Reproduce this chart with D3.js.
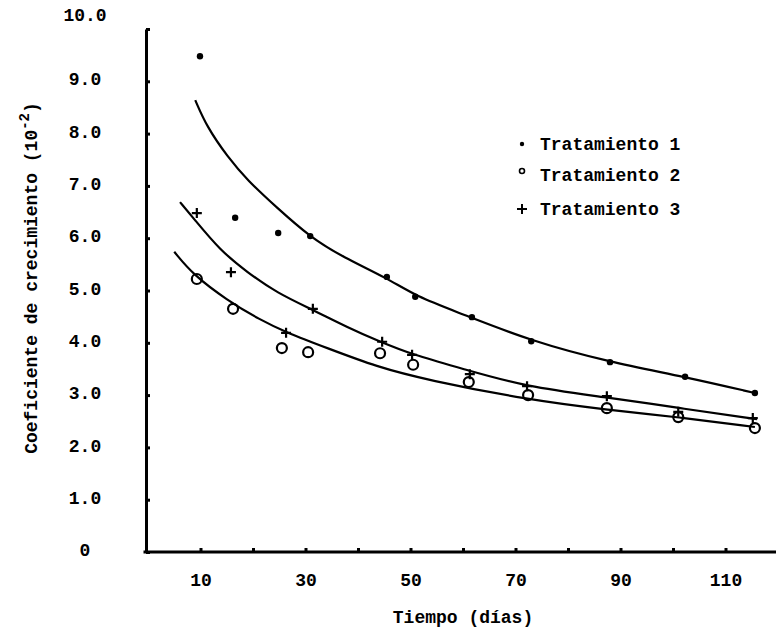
<!DOCTYPE html>
<html>
<head>
<meta charset="utf-8">
<script src="https://cdn.jsdelivr.net/npm/d3@7"></script>
<style>
  body { margin: 0; background: #fff; }
  svg { display: block; font-family: 'Liberation Mono', 'DejaVu Sans Mono', monospace; font-weight: bold; }
</style>
</head>
<body>
<svg></svg>
<script>
// Tratamiento 1 (puntos)
const days1 = [9.9, 16.6, 24.8, 30.9, 45.5, 50.9, 61.7, 73.0, 88.0, 102.3, 115.6]
const tratamiento1 = [9.48, 6.39, 6.10, 6.04, 5.26, 4.88, 4.49, 4.03, 3.63, 3.35, 3.04]
// Tratamiento 2 (circulos)
const days2 = [9.3, 16.2, 25.5, 30.5, 44.2, 50.5, 61.1, 72.4, 87.4, 101.0, 115.6]
const tratamiento2 = [5.22, 4.65, 3.90, 3.82, 3.80, 3.58, 3.25, 3.00, 2.75, 2.58, 2.37]
// Tratamiento 3 (cruces)
const days3 = [9.3, 15.8, 26.3, 31.4, 44.6, 50.3, 61.3, 72.2, 87.4, 101.0, 115.2]
const tratamiento3 = [6.48, 5.35, 4.19, 4.65, 4.02, 3.77, 3.40, 3.17, 2.98, 2.68, 2.56]

// fitted curves
const fitDays1 = [9.0, 11.2, 15.2, 18.9, 24.6, 30.9, 37.1, 45.5, 51.2, 59.4, 73.0, 88.0, 102.3, 115.6]
const fit1 = [8.64, 8.13, 7.55, 7.11, 6.58, 6.02, 5.64, 5.24, 4.88, 4.57, 4.03, 3.63, 3.35, 3.04]
const fitDays2 = [5.0, 8.6, 15.0, 21.3, 26.5, 34.1, 43.6, 53.1, 72.4, 87.4, 101.0, 115.6]
const fit2 = [5.74, 5.30, 4.82, 4.44, 4.19, 3.90, 3.54, 3.29, 2.91, 2.72, 2.58, 2.39]
const fitDays3 = [6.1, 8.6, 13.7, 18.9, 24.6, 31.4, 37.9, 44.2, 50.5, 59.4, 72.2, 87.4, 101.3, 116.0]
const fit3 = [6.69, 6.39, 5.77, 5.35, 4.95, 4.63, 4.30, 4.02, 3.77, 3.52, 3.15, 2.96, 2.75, 2.54]

const yTicks = [0, 1, 2, 3, 4, 5, 6, 7, 8, 9, 10]
const xTicks = [10, 20, 30, 40, 50, 60, 70, 80, 90, 100, 110]
const xLabels = [10, 30, 50, 70, 90, 110]
const legendLabels = ['Tratamiento 1', 'Tratamiento 2', 'Tratamiento 3']

const width = 776
const height = 631

const x = d3.scaleLinear()
  .domain([0, 120])
  .range([148, 778])

const y = d3.scaleLinear()
  .domain([0, 10])
  .range([552, 29])

const svg = d3.select('svg')
  .attr('width', width)
  .attr('height', height)

function xAxis (g) {
  g.attr('transform', `translate(0,${y(0)})`)
    .call(d3.axisBottom(x)
      .tickValues(xTicks)
      .tickSizeInner(-4)
      .tickSizeOuter(0)
      .tickPadding(21)
      .tickFormat(d => xLabels.includes(d) ? d : ''))
    .attr('font-family', null)
    .attr('font-size', 18)
    .call(g => g.select('.domain')
      .attr('stroke-width', 3)
      .attr('stroke-linecap', 'square')
      .attr('d', `M${x(0) - 3},0H${width}`))
    .call(g => g.selectAll('.tick line').attr('stroke-width', 3))
    .call(g => g.selectAll('.tick text').attr('fill', '#000'))
    .call(g => g.append('text')
      .attr('x', 463)
      .attr('y', 623 - y(0))
      .attr('fill', '#000')
      .attr('text-anchor', 'middle')
      .text('Tiempo (días)'))
}

function yAxis (g) {
  g.attr('transform', `translate(${x(0) - 2},0)`)
    .call(d3.axisLeft(y)
      .tickValues(yTicks)
      .tickSizeInner(-4)
      .tickSizeOuter(0)
      .tickPadding(61)
      .tickFormat(d => d === 0 ? '0' : d3.format('.1f')(d)))
    .attr('font-family', null)
    .attr('font-size', 18)
    .call(g => g.select('.domain').attr('stroke-width', 3))
    .call(g => g.selectAll('.tick line').attr('stroke-width', 3))
    .call(g => g.selectAll('.tick text')
      .attr('fill', '#000')
      .attr('text-anchor', 'middle')
      .attr('dy', d => d === 10 ? '-0.5em' : '0.2em'))
}

function yTitle (g) {
  const t = g.append('text')
    .attr('transform', 'translate(37,278) rotate(-90)')
    .attr('text-anchor', 'middle')
    .attr('font-size', 18)
    .attr('fill', '#000')
  t.append('tspan').text('Coeficiente de crecimiento (10')
  t.append('tspan').attr('dy', -8).attr('font-size', 14).text('-2')
  t.append('tspan').attr('dy', 8).text(')')
}

function fitLine (g, days, values) {
  g.append('path')
    .datum(days.map((d, i) => [d, values[i]]))
    .attr('fill', 'none')
    .attr('stroke', '#000')
    .attr('stroke-width', 2.2)
    .attr('d', d3.line()
      .x(d => x(d[0]))
      .y(d => y(d[1]))
      .curve(d3.curveBasis))
}

function dots (g, days, values) {
  g.selectAll('circle')
    .data(days)
    .join('circle')
    .attr('cx', d => x(d))
    .attr('cy', (d, i) => y(values[i]))
    .attr('r', 3.2)
    .attr('fill', '#000')
}

function rings (g, days, values) {
  g.selectAll('circle')
    .data(days)
    .join('circle')
    .attr('cx', d => x(d))
    .attr('cy', (d, i) => y(values[i]))
    .attr('r', 5)
    .attr('fill', 'none')
    .attr('stroke', '#000')
    .attr('stroke-width', 2.2)
}

function crosses (g, days, values) {
  g.selectAll('path')
    .data(days)
    .join('path')
    .attr('transform', (d, i) => `translate(${x(d)},${y(values[i])})`)
    .attr('d', 'M-5,0H5M0,-5V5')
    .attr('stroke', '#000')
    .attr('stroke-width', 2.2)
}

function legend (g) {
  const rows = g.selectAll('g')
    .data(legendLabels)
    .join('g')
    .attr('transform', (d, i) => `translate(522,${[144, 175, 209][i]})`)
  rows.append('text')
    .attr('x', 18)
    .attr('dy', '0.35em')
    .attr('font-size', 18)
    .attr('fill', '#000')
    .text(d => d)
  rows.filter((d, i) => i === 0).append('circle').attr('r', 2.2).attr('fill', '#000')
  rows.filter((d, i) => i === 1).append('circle')
    .attr('cy', -4).attr('r', 2.5).attr('fill', 'none').attr('stroke', '#000').attr('stroke-width', 1.6)
  rows.filter((d, i) => i === 2).append('path')
    .attr('d', 'M-5,0H5M0,-5V5').attr('stroke', '#000').attr('stroke-width', 2)
}

svg.append('g').call(xAxis)
svg.append('g').call(yAxis)
svg.append('g').call(yTitle)

svg.append('g').call(fitLine, fitDays1, fit1)
svg.append('g').call(fitLine, fitDays2, fit2)
svg.append('g').call(fitLine, fitDays3, fit3)

svg.append('g').call(dots, days1, tratamiento1)
svg.append('g').call(rings, days2, tratamiento2)
svg.append('g').call(crosses, days3, tratamiento3)

svg.append('g').call(legend)
</script>
</body>
</html>
